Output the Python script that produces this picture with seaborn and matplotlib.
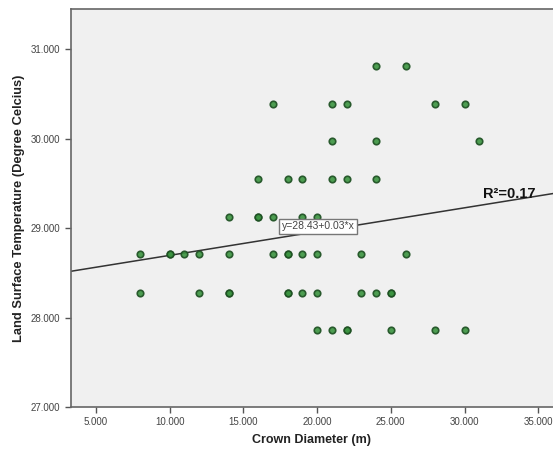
import matplotlib.pyplot as plt
import seaborn as sns
import pandas as pd

lst_levels = [30.81, 30.39, 29.97, 29.55, 29.13, 28.71, 28.28, 27.86]
crown_by_row = [
    [24, 26],
    [17, 21, 22, 28, 30],
    [21, 24, 31],
    [16, 18, 19, 21, 22, 24],
    [14, 16, 16, 17, 19, 20],
    [8, 10, 10, 11, 12, 14, 17, 18, 18, 19, 20, 23, 26],
    [8, 12, 14, 14, 18, 18, 19, 20, 23, 24, 25, 25],
    [20, 21, 22, 22, 25, 28, 30],
]

# fitted line as reported on the chart
intercept = 28.43
slope = 0.0266
fit_label = "y=28.43+0.03*x"
r2_label = "R\u00b2=0.17"

crown = []
lst = []
for level, xs in zip(lst_levels, crown_by_row):
    crown += xs
    lst += [level] * len(xs)
df = pd.DataFrame({"crown": crown, "lst": lst})

sns.set_style("white")
plt.rcParams["font.family"] = ["Liberation Sans", "DejaVu Sans"]

fig = plt.figure(figsize=(5.53, 4.5), dpi=100)
ax = fig.add_axes([0.128, 0.0956, 0.872, 0.884])
ax.set_facecolor("#f0f0f0")

sns.scatterplot(data=df, x="crown", y="lst", ax=ax, s=22, color="#3b9440",
                edgecolor="#1d4f22", linewidth=1.2, alpha=0.9, zorder=3)
ax.axline((0, intercept), slope=slope, color="#333333", lw=1.1, zorder=2)

ax.set_xlim(3.3, 36.0)
ax.set_ylim(27.0, 31.45)
ax.set_xticks([5, 10, 15, 20, 25, 30, 35])
ax.set_yticks([27, 28, 29, 30, 31])
ax.xaxis.set_major_formatter(plt.FuncFormatter(lambda v, p: f"{v:.3f}"))
ax.yaxis.set_major_formatter(plt.FuncFormatter(lambda v, p: f"{v:.3f}"))
ax.tick_params(axis="both", direction="out", length=4, width=1, color="#555555",
               labelsize=7, labelcolor="#444444", bottom=True, left=True)

for side in ["left", "bottom", "top"]:
    ax.spines[side].set_color("#666666")
    ax.spines[side].set_linewidth(1.2)
ax.spines["right"].set_visible(False)

ax.set_xlabel("Crown Diameter (m)", fontsize=9, fontweight="bold", color="#222222", labelpad=5)
ax.set_ylabel("Land Surface Temperature (Degree Celcius)", fontsize=9.3, fontweight="bold",
              color="#222222", labelpad=4)

ax.text(17.6, 29.02, fit_label, fontsize=7.5, color="#444444", va="center", ha="left", zorder=4,
        bbox=dict(boxstyle="square,pad=0.25", fc="white", ec="#777777", lw=1))
ax.text(31.25, 29.38, r2_label, fontsize=10.5, fontweight="bold", color="#111111",
        va="center", ha="left", zorder=4)

fig.savefig("out.png", dpi=100)
